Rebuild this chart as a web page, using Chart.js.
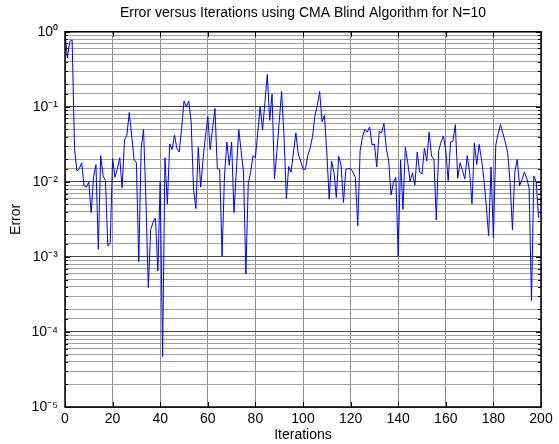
<!DOCTYPE html>
<html>
<head>
<meta charset="utf-8">
<script src="https://cdn.jsdelivr.net/npm/chart.js@4.4.1/dist/chart.umd.min.js"></script>
<style>
  html, body { margin: 0; padding: 0; background: #fff; }
  #wrap { width: 559px; height: 444px; }
</style>
</head>
<body>
<div id="wrap"><canvas id="myChart" width="559" height="444"></canvas></div>
<script>
// error per iteration (iterations 0..199)
const errorValues = [
  0.95, 0.45, 0.74, 0.78, 0.028, 0.014, 0.015, 0.018, 0.0089, 0.0085,
  0.0099, 0.0039, 0.0115, 0.017, 0.00126, 0.0224, 0.012, 0.0104, 0.0014, 0.00155,
  0.0204, 0.0115, 0.0149, 0.021, 0.0083, 0.036, 0.042, 0.084, 0.042, 0.020,
  0.018, 0.00086, 0.028, 0.050, 0.0059, 0.00039, 0.0023, 0.0029, 0.0033, 0.00065,
  0.0099, 0.000047, 0.021, 0.0051, 0.032, 0.027, 0.042, 0.028, 0.025, 0.051,
  0.12, 0.10, 0.12, 0.063, 0.0081, 0.0044, 0.029, 0.0085, 0.020, 0.040,
  0.074, 0.027, 0.051, 0.095, 0.015, 0.0147, 0.00103, 0.012, 0.034, 0.0166,
  0.034, 0.0039, 0.014, 0.05, 0.026, 0.0135, 0.00059, 0.0094, 0.0135, 0.0224,
  0.021, 0.046, 0.10, 0.049, 0.115, 0.27, 0.066, 0.147, 0.011, 0.025,
  0.063, 0.16, 0.042, 0.006, 0.016, 0.0135, 0.025, 0.045, 0.0236, 0.019,
  0.0147, 0.0147, 0.0224, 0.028, 0.04, 0.076, 0.105, 0.16, 0.063, 0.077,
  0.025, 0.0059, 0.019, 0.0135, 0.0062, 0.022, 0.0166, 0.0053, 0.0147, 0.015,
  0.015, 0.0135, 0.0115, 0.0026, 0.026, 0.04, 0.05, 0.046, 0.054, 0.031,
  0.032, 0.0158, 0.047, 0.045, 0.06, 0.028, 0.019, 0.0067, 0.0099, 0.0115,
  0.00103, 0.0196, 0.0043, 0.029, 0.018, 0.0102, 0.0132, 0.0091, 0.025, 0.0135,
  0.0128, 0.028, 0.019, 0.046, 0.022, 0.020, 0.0031, 0.026, 0.034, 0.041,
  0.026, 0.0104, 0.034, 0.035, 0.058, 0.0112, 0.018, 0.0142, 0.011, 0.0224,
  0.0135, 0.0051, 0.033, 0.017, 0.0316, 0.020, 0.011, 0.0048, 0.0019, 0.0158,
  0.0018, 0.031, 0.044, 0.058, 0.044, 0.034, 0.0245, 0.0099, 0.0023, 0.0135,
  0.020, 0.0089, 0.0107, 0.0135, 0.0112, 0.0083, 0.00026, 0.012, 0.0099, 0.0033
];
const iterations = errorValues.map((v, i) => i);

const xTicks = [0, 20, 40, 60, 80, 100, 120, 140, 160, 180, 200];
const yMin = 1e-5;
const yMax = 1;
const supDigits = { '0': '\u2070', '1': '\u00b9', '2': '\u00b2', '3': '\u00b3', '4': '\u2074', '5': '\u2075', '-': '\u207b' };
const FONT = 'Liberation Sans';

function isDecade(v) {
  const e = Math.log10(v);
  return Math.abs(e - Math.round(e)) < 1e-6;
}

// black box around the axes plus inward tick marks, like MATLAB
const boxPlugin = {
  id: 'box',
  afterDraw(chart) {
    const { ctx, chartArea: a, scales } = chart;
    ctx.save();
    ctx.strokeStyle = '#000';
    ctx.lineWidth = 1;
    ctx.beginPath();
    scales.y.ticks.forEach(t => {
      const y = Math.round(scales.y.getPixelForValue(t.value)) + 0.5;
      const len = isDecade(t.value) ? 5 : 3;
      ctx.moveTo(a.left, y); ctx.lineTo(a.left + len, y);
      ctx.moveTo(a.right, y); ctx.lineTo(a.right - len, y);
    });
    xTicks.forEach(v => {
      const x = Math.round(scales.x.getPixelForValue(v)) + 0.5;
      ctx.moveTo(x, a.top); ctx.lineTo(x, a.top + 5);
      ctx.moveTo(x, a.bottom); ctx.lineTo(x, a.bottom - 5);
    });
    ctx.stroke();
    ctx.lineWidth = 1.5;
    ctx.strokeRect(a.left, a.top, a.right - a.left, a.bottom - a.top);
    ctx.restore();
  }
};

const ctx = document.getElementById('myChart').getContext('2d');
new Chart(ctx, {
  type: 'line',
  data: {
    datasets: [{
      label: 'Error',
      data: iterations.map((x, i) => ({ x: x, y: errorValues[i] })),
      borderColor: '#0000ff',
      borderWidth: 1,
      pointRadius: 0,
      tension: 0,
      fill: false
    }]
  },
  options: {
    responsive: false,
    animation: false,
    layout: { padding: { left: 0, right: 18, top: 0, bottom: 0 } },
    plugins: {
      legend: { display: false },
      tooltip: { enabled: false },
      title: {
        display: true,
        fullSize: false,
        text: 'Error versus Iterations using CMA Blind Algorithm for N=10',
        color: '#000',
        font: { family: FONT, size: 14, weight: 'normal' },
        padding: { top: 5, bottom: 10 }
      }
    },
    scales: {
      x: {
        type: 'linear',
        min: 0,
        max: 200,
        afterBuildTicks(scale) { scale.ticks = xTicks.map(v => ({ value: v })); },
        afterFit(scale) { scale.height = 37; },
        grid: { color: '#8c8c8c', drawTicks: false },
        border: { display: false },
        ticks: {
          color: '#000',
          padding: 4,
          font: { family: FONT, size: 14 }
        },
        title: {
          display: true,
          text: 'Iterations',
          color: '#000',
          font: { family: FONT, size: 14 },
          padding: { top: 0, bottom: 0 }
        }
      },
      y: {
        type: 'logarithmic',
        min: yMin,
        max: yMax,
        afterFit(scale) { scale.width = 65; },
        grid: {
          drawTicks: false,
          color: c => (c.tick && isDecade(c.tick.value)) ? '#444' : '#a0a0a0'
        },
        border: { display: false },
        ticks: {
          autoSkip: false,
          color: '#000',
          padding: 7,
          font: { family: FONT, size: 14 },
          callback(v) {
            if (!isDecade(v)) return '';
            const e = String(Math.round(Math.log10(v)));
            return '10' + e.split('').map(ch => supDigits[ch]).join('');
          }
        },
        title: {
          display: true,
          text: 'Error',
          color: '#000',
          font: { family: FONT, size: 14 },
          padding: { top: 8, bottom: 4 }
        }
      }
    }
  },
  plugins: [boxPlugin]
});
</script>
</body>
</html>
